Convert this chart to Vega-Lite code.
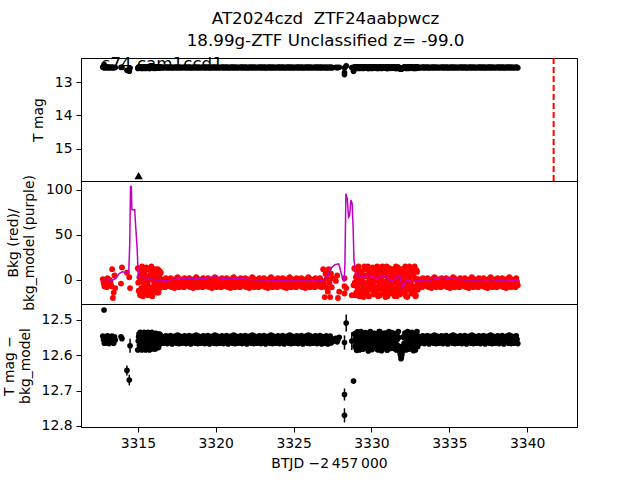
{
  "$schema": "https://vega.github.io/schema/vega-lite/v6.json",
  "background": "white",
  "padding": {"left": 1, "top": 10, "right": 60, "bottom": 8},
  "bounds": "flush",
  "title": {"text": ["AT2024czd\u00a0 ZTF24aabpwcz", "18.99g-ZTF Unclassified z= -99.0"], "fontSize": 16.7, "font": "DejaVu Sans", "fontWeight": "normal", "color": "black", "anchor": "middle", "dx": 36, "lineHeight": 22, "offset": 6},
  "datasets": {
    "lc": [
      {"t":3312.75,"d":12.546,"b":1},{"t":3312.80,"d":12.556,"b":-3},{"t":3312.83,"d":12.472,"b":-4},{"t":3312.85,"d":12.566,"b":-7},
      {"t":3312.90,"d":12.548,"b":0},{"t":3312.95,"d":12.557,"b":-4},{"t":3313.00,"d":12.565,"b":-8},{"t":3313.05,"d":12.545,"b":2},
      {"t":3313.10,"d":12.555,"b":-2},{"t":3313.15,"d":12.567,"b":-6},{"t":3313.20,"d":12.547,"b":0},{"t":3313.25,"d":12.558,"b":-3},
      {"t":3313.30,"d":12.564,"b":-7},{"t":3313.35,"d":12.546,"b":12},{"t":3313.40,"d":12.556,"b":-20},{"t":3313.45,"d":12.566,"b":-14},
      {"t":3313.50,"d":12.548,"b":5},{"t":3313.55,"d":12.557,"b":-9},
      {"t":3313.92,"d":12.548,"b":-4},{"t":3313.98,"d":12.553,"b":14},{"t":3314.30,"d":12.643,"b":8},{"t":3314.45,"d":12.670,"b":3},{"t":3314.50,"d":12.573,"b":-9},
      {"t":3315.00,"d":12.585,"b":13},{"t":3315.05,"d":12.548,"b":-12},{"t":3315.10,"d":12.572,"b":3},{"t":3315.15,"d":12.535,"b":-17},
      {"t":3315.20,"d":12.560,"b":8},{"t":3315.25,"d":12.585,"b":-2},{"t":3315.30,"d":12.548,"b":10},{"t":3315.35,"d":12.572,"b":-15},
      {"t":3315.40,"d":12.535,"b":-7},{"t":3315.45,"d":12.560,"b":6},{"t":3315.50,"d":12.585,"b":-10},{"t":3315.55,"d":12.548,"b":14},
      {"t":3315.60,"d":12.572,"b":-5},{"t":3315.65,"d":12.535,"b":-17},{"t":3315.70,"d":12.560,"b":1},{"t":3315.75,"d":12.585,"b":11},
      {"t":3315.80,"d":12.548,"b":-13},{"t":3315.85,"d":12.572,"b":4},{"t":3315.90,"d":12.535,"b":-8},{"t":3315.95,"d":12.560,"b":-16},
      {"t":3316.00,"d":12.582,"b":9},{"t":3316.05,"d":12.548,"b":-3},{"t":3316.10,"d":12.570,"b":12},{"t":3316.15,"d":12.538,"b":-11},
      {"t":3316.20,"d":12.560,"b":0},{"t":3316.25,"d":12.578,"b":-14},{"t":3316.30,"d":12.548,"b":7},{"t":3316.35,"d":12.568,"b":-6},
      {"t":3316.40,"d":12.540,"b":10},{"t":3316.45,"d":12.560,"b":-2},

      {"t":3316.50,"d":12.546,"b":1},{"t":3316.55,"d":12.556,"b":-3},{"t":3316.60,"d":12.566,"b":-7},{"t":3316.65,"d":12.548,"b":0},
      {"t":3316.70,"d":12.557,"b":-4},{"t":3316.75,"d":12.565,"b":-8},{"t":3316.80,"d":12.545,"b":2},{"t":3316.85,"d":12.555,"b":-2},
      {"t":3316.90,"d":12.567,"b":-6},{"t":3316.95,"d":12.547,"b":0},{"t":3317.00,"d":12.558,"b":-3},{"t":3317.05,"d":12.564,"b":-7},
      {"t":3317.10,"d":12.544,"b":2},{"t":3317.15,"d":12.555,"b":-2},{"t":3317.20,"d":12.568,"b":-8},{"t":3317.25,"d":12.549,"b":-1},
      {"t":3317.30,"d":12.559,"b":-5},{"t":3317.35,"d":12.563,"b":-9},{"t":3317.40,"d":12.546,"b":1},{"t":3317.45,"d":12.553,"b":-3},
      {"t":3317.50,"d":12.566,"b":-6},{"t":3317.55,"d":12.543,"b":3},{"t":3317.60,"d":12.557,"b":-4},{"t":3317.65,"d":12.567,"b":-8},
      {"t":3317.70,"d":12.546,"b":1},{"t":3317.75,"d":12.556,"b":-3},{"t":3317.80,"d":12.566,"b":-7},{"t":3317.85,"d":12.548,"b":0},
      {"t":3317.90,"d":12.557,"b":-4},{"t":3317.95,"d":12.565,"b":-8},{"t":3318.00,"d":12.545,"b":2},{"t":3318.05,"d":12.555,"b":-2},
      {"t":3318.10,"d":12.567,"b":-6},{"t":3318.15,"d":12.547,"b":0},{"t":3318.20,"d":12.558,"b":-3},{"t":3318.25,"d":12.564,"b":-7},
      {"t":3318.30,"d":12.544,"b":2},{"t":3318.35,"d":12.555,"b":-2},{"t":3318.40,"d":12.568,"b":-8},{"t":3318.45,"d":12.549,"b":-1},
      {"t":3318.50,"d":12.559,"b":-5},{"t":3318.55,"d":12.563,"b":-9},{"t":3318.60,"d":12.546,"b":1},{"t":3318.65,"d":12.553,"b":-3},
      {"t":3318.70,"d":12.566,"b":-6},{"t":3318.75,"d":12.543,"b":3},{"t":3318.80,"d":12.557,"b":-4},{"t":3318.85,"d":12.567,"b":-8},
      {"t":3318.90,"d":12.546,"b":1},{"t":3318.95,"d":12.556,"b":-3},{"t":3319.00,"d":12.566,"b":-7},{"t":3319.05,"d":12.548,"b":0},
      {"t":3319.10,"d":12.557,"b":-4},{"t":3319.15,"d":12.565,"b":-8},{"t":3319.20,"d":12.545,"b":2},{"t":3319.25,"d":12.555,"b":-2},
      {"t":3319.30,"d":12.567,"b":-6},{"t":3319.35,"d":12.547,"b":0},{"t":3319.40,"d":12.558,"b":-3},{"t":3319.45,"d":12.564,"b":-7},
      {"t":3319.50,"d":12.544,"b":2},{"t":3319.55,"d":12.555,"b":-2},{"t":3319.60,"d":12.568,"b":-8},{"t":3319.65,"d":12.549,"b":-1},
      {"t":3319.70,"d":12.559,"b":-5},{"t":3319.75,"d":12.563,"b":-9},{"t":3319.80,"d":12.546,"b":1},{"t":3319.85,"d":12.553,"b":-3},
      {"t":3319.90,"d":12.566,"b":-6},{"t":3319.95,"d":12.543,"b":3},{"t":3320.00,"d":12.557,"b":-4},{"t":3320.05,"d":12.567,"b":-8},
      {"t":3320.10,"d":12.546,"b":1},{"t":3320.15,"d":12.556,"b":-3},{"t":3320.20,"d":12.566,"b":-7},{"t":3320.25,"d":12.548,"b":0},
      {"t":3320.30,"d":12.557,"b":-4},{"t":3320.35,"d":12.565,"b":-8},{"t":3320.40,"d":12.545,"b":2},{"t":3320.45,"d":12.555,"b":-2},
      {"t":3320.50,"d":12.567,"b":-6},{"t":3320.55,"d":12.547,"b":0},{"t":3320.60,"d":12.558,"b":-3},{"t":3320.65,"d":12.564,"b":-7},
      {"t":3320.70,"d":12.544,"b":2},{"t":3320.75,"d":12.555,"b":-2},{"t":3320.80,"d":12.568,"b":-8},{"t":3320.85,"d":12.549,"b":-1},
      {"t":3320.90,"d":12.559,"b":-5},{"t":3320.95,"d":12.563,"b":-9},{"t":3321.00,"d":12.546,"b":1},{"t":3321.05,"d":12.553,"b":-3},
      {"t":3321.10,"d":12.566,"b":-6},{"t":3321.15,"d":12.543,"b":3},{"t":3321.20,"d":12.557,"b":-4},{"t":3321.25,"d":12.567,"b":-8},
      {"t":3321.30,"d":12.546,"b":1},{"t":3321.35,"d":12.556,"b":-3},{"t":3321.40,"d":12.566,"b":-7},{"t":3321.45,"d":12.548,"b":0},
      {"t":3321.50,"d":12.557,"b":-4},{"t":3321.55,"d":12.565,"b":-8},{"t":3321.60,"d":12.545,"b":2},{"t":3321.65,"d":12.555,"b":-2},
      {"t":3321.70,"d":12.567,"b":-6},{"t":3321.75,"d":12.547,"b":0},{"t":3321.80,"d":12.558,"b":-3},{"t":3321.85,"d":12.564,"b":-7},
      {"t":3321.90,"d":12.544,"b":2},{"t":3321.95,"d":12.555,"b":-2},{"t":3322.00,"d":12.568,"b":-8},{"t":3322.05,"d":12.549,"b":-1},
      {"t":3322.10,"d":12.559,"b":-5},{"t":3322.15,"d":12.563,"b":-9},{"t":3322.20,"d":12.546,"b":1},{"t":3322.25,"d":12.553,"b":-3},
      {"t":3322.30,"d":12.566,"b":-6},{"t":3322.35,"d":12.543,"b":3},{"t":3322.40,"d":12.557,"b":-4},{"t":3322.45,"d":12.567,"b":-8},
      {"t":3322.50,"d":12.546,"b":1},{"t":3322.55,"d":12.556,"b":-3},{"t":3322.60,"d":12.566,"b":-7},{"t":3322.65,"d":12.548,"b":0},
      {"t":3322.70,"d":12.557,"b":-4},{"t":3322.75,"d":12.565,"b":-8},{"t":3322.80,"d":12.545,"b":2},{"t":3322.85,"d":12.555,"b":-2},
      {"t":3322.90,"d":12.567,"b":-6},{"t":3322.95,"d":12.547,"b":0},{"t":3323.00,"d":12.558,"b":-3},{"t":3323.05,"d":12.564,"b":-7},
      {"t":3323.10,"d":12.544,"b":2},{"t":3323.15,"d":12.555,"b":-2},{"t":3323.20,"d":12.568,"b":-8},{"t":3323.25,"d":12.549,"b":-1},
      {"t":3323.30,"d":12.559,"b":-5},{"t":3323.35,"d":12.563,"b":-9},{"t":3323.40,"d":12.546,"b":1},{"t":3323.45,"d":12.553,"b":-3},
      {"t":3323.50,"d":12.566,"b":-6},{"t":3323.55,"d":12.543,"b":3},{"t":3323.60,"d":12.557,"b":-4},{"t":3323.65,"d":12.567,"b":-8},
      {"t":3323.70,"d":12.546,"b":1},{"t":3323.75,"d":12.556,"b":-3},{"t":3323.80,"d":12.566,"b":-7},{"t":3323.85,"d":12.548,"b":0},
      {"t":3323.90,"d":12.557,"b":-4},{"t":3323.95,"d":12.565,"b":-8},{"t":3324.00,"d":12.545,"b":2},{"t":3324.05,"d":12.555,"b":-2},
      {"t":3324.10,"d":12.567,"b":-6},{"t":3324.15,"d":12.547,"b":0},{"t":3324.20,"d":12.558,"b":-3},{"t":3324.25,"d":12.564,"b":-7},
      {"t":3324.30,"d":12.544,"b":2},{"t":3324.35,"d":12.555,"b":-2},{"t":3324.40,"d":12.568,"b":-8},{"t":3324.45,"d":12.549,"b":-1},
      {"t":3324.50,"d":12.559,"b":-5},{"t":3324.55,"d":12.563,"b":-9},{"t":3324.60,"d":12.546,"b":1},{"t":3324.65,"d":12.553,"b":-3},
      {"t":3324.70,"d":12.566,"b":-6},{"t":3324.75,"d":12.543,"b":3},{"t":3324.80,"d":12.557,"b":-4},{"t":3324.85,"d":12.567,"b":-8},
      {"t":3324.90,"d":12.546,"b":1},{"t":3324.95,"d":12.556,"b":-3},{"t":3325.00,"d":12.566,"b":-7},{"t":3325.05,"d":12.548,"b":0},
      {"t":3325.10,"d":12.557,"b":-4},{"t":3325.15,"d":12.565,"b":-8},{"t":3325.20,"d":12.545,"b":2},{"t":3325.25,"d":12.555,"b":-2},
      {"t":3325.30,"d":12.567,"b":-6},{"t":3325.35,"d":12.547,"b":0},{"t":3325.40,"d":12.558,"b":-3},{"t":3325.45,"d":12.564,"b":-7},
      {"t":3325.50,"d":12.544,"b":2},{"t":3325.55,"d":12.555,"b":-2},{"t":3325.60,"d":12.568,"b":-8},{"t":3325.65,"d":12.549,"b":-1},
      {"t":3325.70,"d":12.559,"b":-5},{"t":3325.75,"d":12.563,"b":-9},{"t":3325.80,"d":12.546,"b":1},{"t":3325.85,"d":12.553,"b":-3},
      {"t":3325.90,"d":12.566,"b":-6},{"t":3325.95,"d":12.543,"b":3},{"t":3326.00,"d":12.557,"b":-4},{"t":3326.05,"d":12.567,"b":-8},
      {"t":3326.10,"d":12.546,"b":1},{"t":3326.15,"d":12.556,"b":-3},{"t":3326.20,"d":12.566,"b":-7},{"t":3326.25,"d":12.548,"b":0},
      {"t":3326.30,"d":12.557,"b":-4},{"t":3326.35,"d":12.565,"b":-8},{"t":3326.40,"d":12.545,"b":2},{"t":3326.45,"d":12.555,"b":-2},
      {"t":3326.50,"d":12.567,"b":-6},{"t":3326.55,"d":12.547,"b":0},{"t":3326.60,"d":12.558,"b":-3},{"t":3326.65,"d":12.564,"b":-7},
      {"t":3326.70,"d":12.544,"b":2},{"t":3326.75,"d":12.555,"b":-2},{"t":3326.80,"d":12.568,"b":-8},{"t":3326.85,"d":12.549,"b":-1},

      {"t":3326.90,"d":12.548,"b":12},{"t":3326.95,"d":12.562,"b":-3},{"t":3327.00,"d":12.552,"b":-19},{"t":3327.05,"d":12.566,"b":7},
      {"t":3327.10,"d":12.545,"b":-8},{"t":3327.15,"d":12.558,"b":2},{"t":3327.20,"d":12.568,"b":-13},{"t":3327.25,"d":12.550,"b":12},
      {"t":3327.30,"d":12.560,"b":-3},{"t":3327.35,"d":12.546,"b":-19},{"t":3327.40,"d":12.565,"b":7},{"t":3327.45,"d":12.553,"b":-8},
      {"t":3327.50,"d":12.562,"b":2},
      {"t":3327.72,"d":12.552,"b":-1},{"t":3327.80,"d":12.562,"b":5},{"t":3327.85,"d":12.556,"b":-20},{"t":3327.93,"d":12.549,"b":-13},
      {"t":3328.27,"d":12.564,"b":2},{"t":3328.27,"d":12.711,"b":-7},{"t":3328.27,"d":12.770,"b":-15},{"t":3328.38,"d":12.509,"b":-9},
      {"t":3328.74,"d":12.560,"b":-17},{"t":3328.85,"d":12.673,"b":-6},

      {"t":3328.90,"d":12.540,"b":13},{"t":3328.95,"d":12.575,"b":-17},{"t":3329.00,"d":12.552,"b":3},{"t":3329.05,"d":12.586,"b":-7},
      {"t":3329.10,"d":12.534,"b":8},{"t":3329.15,"d":12.563,"b":-12},{"t":3329.20,"d":12.580,"b":-2},{"t":3329.25,"d":12.545,"b":10},
      {"t":3329.30,"d":12.570,"b":-15},{"t":3329.35,"d":12.538,"b":0},{"t":3329.40,"d":12.558,"b":-5},{"t":3329.45,"d":12.583,"b":6},
      {"t":3329.50,"d":12.548,"b":-19},{"t":3329.55,"d":12.567,"b":15},{"t":3329.60,"d":12.536,"b":-9},{"t":3329.65,"d":12.578,"b":4},
      {"t":3329.70,"d":12.555,"b":-14},{"t":3329.75,"d":12.542,"b":11},{"t":3329.80,"d":12.588,"b":-3},{"t":3329.85,"d":12.561,"b":-18},
      {"t":3329.90,"d":12.535,"b":7},{"t":3329.95,"d":12.572,"b":-6},{"t":3330.00,"d":12.550,"b":1},{"t":3330.05,"d":12.584,"b":-11},
      {"t":3330.10,"d":12.544,"b":14},{"t":3330.15,"d":12.566,"b":-16},{"t":3330.20,"d":12.539,"b":-1},{"t":3330.25,"d":12.576,"b":9},
      {"t":3330.30,"d":12.557,"b":-13},{"t":3330.35,"d":12.582,"b":5},{"t":3330.40,"d":12.546,"b":-8},{"t":3330.45,"d":12.569,"b":12},
      {"t":3330.50,"d":12.533,"b":-4},{"t":3330.55,"d":12.579,"b":-17},{"t":3330.60,"d":12.553,"b":2},{"t":3330.65,"d":12.587,"b":-10},
      {"t":3330.70,"d":12.541,"b":15},{"t":3330.75,"d":12.564,"b":-14},{"t":3330.80,"d":12.549,"b":6},{"t":3330.85,"d":12.574,"b":-2},
      {"t":3330.90,"d":12.537,"b":-19},{"t":3330.95,"d":12.560,"b":10},{"t":3331.00,"d":12.585,"b":-7},{"t":3331.05,"d":12.547,"b":3},
      {"t":3331.10,"d":12.571,"b":-12},{"t":3331.15,"d":12.543,"b":13},{"t":3331.20,"d":12.581,"b":-5},{"t":3331.25,"d":12.556,"b":-15},
      {"t":3331.30,"d":12.536,"b":8},{"t":3331.35,"d":12.568,"b":-9},{"t":3331.40,"d":12.552,"b":0},{"t":3331.45,"d":12.577,"b":11},
      {"t":3331.50,"d":12.539,"b":-18},{"t":3331.55,"d":12.584,"b":4},{"t":3331.60,"d":12.559,"b":-3},{"t":3331.65,"d":12.545,"b":-13},
      {"t":3331.70,"d":12.573,"b":14},{"t":3331.75,"d":12.550,"b":-8},{"t":3331.80,"d":12.585,"b":1},{"t":3331.85,"d":12.596,"b":-16},
      {"t":3331.90,"d":12.610,"b":7},{"t":3331.95,"d":12.598,"b":-11},{"t":3332.00,"d":12.578,"b":12},{"t":3332.05,"d":12.548,"b":-6},
      {"t":3332.10,"d":12.566,"b":-1},{"t":3332.15,"d":12.537,"b":-14},{"t":3332.20,"d":12.580,"b":9},{"t":3332.25,"d":12.554,"b":-4},
      {"t":3332.30,"d":12.571,"b":-19},{"t":3332.35,"d":12.542,"b":5},{"t":3332.40,"d":12.583,"b":-10},{"t":3332.45,"d":12.558,"b":15},
      {"t":3332.50,"d":12.546,"b":-2},{"t":3332.55,"d":12.575,"b":-15},{"t":3332.60,"d":12.535,"b":6},{"t":3332.65,"d":12.563,"b":-7},
      {"t":3332.70,"d":12.587,"b":10},{"t":3332.75,"d":12.549,"b":-12},{"t":3332.80,"d":12.569,"b":2},{"t":3332.85,"d":12.540,"b":-17},
      {"t":3332.90,"d":12.572,"b":11},{"t":3332.95,"d":12.552,"b":-5},

      {"t":3333.00,"d":12.546,"b":1},{"t":3333.05,"d":12.556,"b":-3},{"t":3333.10,"d":12.566,"b":-7},{"t":3333.15,"d":12.548,"b":0},
      {"t":3333.20,"d":12.557,"b":-4},{"t":3333.25,"d":12.565,"b":-8},{"t":3333.30,"d":12.545,"b":2},{"t":3333.35,"d":12.555,"b":-2},
      {"t":3333.40,"d":12.567,"b":-6},{"t":3333.45,"d":12.547,"b":0},{"t":3333.50,"d":12.558,"b":-3},{"t":3333.55,"d":12.564,"b":-7},
      {"t":3333.60,"d":12.544,"b":2},{"t":3333.65,"d":12.555,"b":-2},{"t":3333.70,"d":12.568,"b":-8},{"t":3333.75,"d":12.549,"b":-1},
      {"t":3333.80,"d":12.559,"b":-5},{"t":3333.85,"d":12.563,"b":-9},{"t":3333.90,"d":12.546,"b":1},{"t":3333.95,"d":12.553,"b":-3},
      {"t":3334.00,"d":12.566,"b":-6},{"t":3334.05,"d":12.543,"b":3},{"t":3334.10,"d":12.557,"b":-4},{"t":3334.15,"d":12.567,"b":-8},
      {"t":3334.20,"d":12.546,"b":1},{"t":3334.25,"d":12.556,"b":-3},{"t":3334.30,"d":12.566,"b":-7},{"t":3334.35,"d":12.548,"b":0},
      {"t":3334.40,"d":12.557,"b":-4},{"t":3334.45,"d":12.565,"b":-8},{"t":3334.50,"d":12.545,"b":2},{"t":3334.55,"d":12.555,"b":-2},
      {"t":3334.60,"d":12.567,"b":-6},{"t":3334.65,"d":12.547,"b":0},{"t":3334.70,"d":12.558,"b":-3},{"t":3334.75,"d":12.564,"b":-7},
      {"t":3334.80,"d":12.544,"b":2},{"t":3334.85,"d":12.555,"b":-2},{"t":3334.90,"d":12.568,"b":-8},{"t":3334.95,"d":12.549,"b":-1},
      {"t":3335.00,"d":12.559,"b":-5},{"t":3335.05,"d":12.563,"b":-9},{"t":3335.10,"d":12.546,"b":1},{"t":3335.15,"d":12.553,"b":-3},
      {"t":3335.20,"d":12.566,"b":-6},{"t":3335.25,"d":12.543,"b":3},{"t":3335.30,"d":12.557,"b":-4},{"t":3335.35,"d":12.567,"b":-8},
      {"t":3335.40,"d":12.546,"b":1},{"t":3335.45,"d":12.556,"b":-3},{"t":3335.50,"d":12.566,"b":-7},{"t":3335.55,"d":12.548,"b":0},
      {"t":3335.60,"d":12.557,"b":-4},{"t":3335.65,"d":12.565,"b":-8},{"t":3335.70,"d":12.545,"b":2},{"t":3335.75,"d":12.555,"b":-2},
      {"t":3335.80,"d":12.567,"b":-6},{"t":3335.85,"d":12.547,"b":0},{"t":3335.90,"d":12.558,"b":-3},{"t":3335.95,"d":12.564,"b":-7},
      {"t":3336.00,"d":12.544,"b":2},{"t":3336.05,"d":12.555,"b":-2},{"t":3336.10,"d":12.568,"b":-8},{"t":3336.15,"d":12.549,"b":-1},
      {"t":3336.20,"d":12.559,"b":-5},{"t":3336.25,"d":12.563,"b":-9},{"t":3336.30,"d":12.546,"b":1},{"t":3336.35,"d":12.553,"b":-3},
      {"t":3336.40,"d":12.566,"b":-6},{"t":3336.45,"d":12.543,"b":3},{"t":3336.50,"d":12.557,"b":-4},{"t":3336.55,"d":12.567,"b":-8},
      {"t":3336.60,"d":12.546,"b":1},{"t":3336.65,"d":12.556,"b":-3},{"t":3336.70,"d":12.566,"b":-7},{"t":3336.75,"d":12.548,"b":0},
      {"t":3336.80,"d":12.557,"b":-4},{"t":3336.85,"d":12.565,"b":-8},{"t":3336.90,"d":12.545,"b":2},{"t":3336.95,"d":12.555,"b":-2},
      {"t":3337.00,"d":12.567,"b":-6},{"t":3337.05,"d":12.547,"b":0},{"t":3337.10,"d":12.558,"b":-3},{"t":3337.15,"d":12.564,"b":-7},
      {"t":3337.20,"d":12.544,"b":2},{"t":3337.25,"d":12.555,"b":-2},{"t":3337.30,"d":12.568,"b":-8},{"t":3337.35,"d":12.549,"b":-1},
      {"t":3337.40,"d":12.559,"b":-5},{"t":3337.45,"d":12.563,"b":-9},{"t":3337.50,"d":12.546,"b":1},{"t":3337.55,"d":12.553,"b":-3},
      {"t":3337.60,"d":12.566,"b":-6},{"t":3337.65,"d":12.543,"b":3},{"t":3337.70,"d":12.557,"b":-4},{"t":3337.75,"d":12.567,"b":-8},
      {"t":3337.80,"d":12.546,"b":1},{"t":3337.85,"d":12.556,"b":-3},{"t":3337.90,"d":12.566,"b":-7},{"t":3337.95,"d":12.548,"b":0},
      {"t":3338.00,"d":12.557,"b":-4},{"t":3338.05,"d":12.565,"b":-8},{"t":3338.10,"d":12.545,"b":2},{"t":3338.15,"d":12.555,"b":-2},
      {"t":3338.20,"d":12.567,"b":-6},{"t":3338.25,"d":12.547,"b":0},{"t":3338.30,"d":12.558,"b":-3},{"t":3338.35,"d":12.564,"b":-7},
      {"t":3338.40,"d":12.544,"b":2},{"t":3338.45,"d":12.555,"b":-2},{"t":3338.50,"d":12.568,"b":-8},{"t":3338.55,"d":12.549,"b":-1},
      {"t":3338.60,"d":12.559,"b":-5},{"t":3338.65,"d":12.563,"b":-9},{"t":3338.70,"d":12.546,"b":1},{"t":3338.75,"d":12.553,"b":-3},
      {"t":3338.80,"d":12.566,"b":-6},{"t":3338.85,"d":12.543,"b":3},{"t":3338.90,"d":12.557,"b":-4},{"t":3338.95,"d":12.567,"b":-8},
      {"t":3339.00,"d":12.546,"b":1},{"t":3339.05,"d":12.556,"b":-3},{"t":3339.10,"d":12.566,"b":-7},{"t":3339.15,"d":12.548,"b":0},
      {"t":3339.20,"d":12.557,"b":-4},{"t":3339.25,"d":12.565,"b":-8},{"t":3339.30,"d":12.545,"b":2},{"t":3339.35,"d":12.555,"b":-2},
      {"t":3339.40,"d":12.567,"b":-6},

      {"t":3315.025,"d":12.560,"b":-3},{"t":3315.075,"d":12.540,"b":12},{"t":3315.125,"d":12.578,"b":-14},{"t":3315.175,"d":12.550,"b":5},
      {"t":3315.225,"d":12.568,"b":-9},{"t":3315.275,"d":12.545,"b":15},{"t":3315.325,"d":12.582,"b":-18},{"t":3315.375,"d":12.555,"b":0},
      {"t":3315.425,"d":12.560,"b":9},{"t":3315.475,"d":12.540,"b":-11},{"t":3315.525,"d":12.578,"b":3},{"t":3315.575,"d":12.550,"b":-6},
      {"t":3315.625,"d":12.568,"b":-3},{"t":3315.675,"d":12.545,"b":12},{"t":3315.725,"d":12.582,"b":-14},{"t":3315.775,"d":12.555,"b":5},
      {"t":3315.825,"d":12.560,"b":-9},{"t":3315.875,"d":12.540,"b":15},{"t":3315.925,"d":12.578,"b":-18},{"t":3315.975,"d":12.550,"b":0},
      {"t":3316.025,"d":12.568,"b":9},{"t":3316.075,"d":12.545,"b":-11},{"t":3316.125,"d":12.582,"b":3},{"t":3316.175,"d":12.555,"b":-6},
      {"t":3316.225,"d":12.560,"b":-3},{"t":3316.275,"d":12.540,"b":12},{"t":3316.325,"d":12.578,"b":-14},{"t":3316.375,"d":12.550,"b":5},
      {"t":3316.425,"d":12.568,"b":-9},{"t":3316.475,"d":12.545,"b":8},

      {"t":3328.925,"d":12.560,"b":-3},{"t":3328.975,"d":12.538,"b":12},{"t":3329.025,"d":12.580,"b":-14},{"t":3329.075,"d":12.550,"b":5},
      {"t":3329.125,"d":12.570,"b":-9},{"t":3329.175,"d":12.543,"b":15},{"t":3329.225,"d":12.585,"b":-18},{"t":3329.275,"d":12.555,"b":0},
      {"t":3329.325,"d":12.533,"b":9},{"t":3329.375,"d":12.575,"b":-11},{"t":3329.425,"d":12.547,"b":3},{"t":3329.475,"d":12.565,"b":-6},
      {"t":3329.525,"d":12.560,"b":-3},{"t":3329.575,"d":12.538,"b":12},{"t":3329.625,"d":12.580,"b":-14},{"t":3329.675,"d":12.550,"b":5},
      {"t":3329.725,"d":12.570,"b":-9},{"t":3329.775,"d":12.543,"b":15},{"t":3329.825,"d":12.585,"b":-18},{"t":3329.875,"d":12.555,"b":0},
      {"t":3329.925,"d":12.533,"b":9},{"t":3329.975,"d":12.575,"b":-11},{"t":3330.025,"d":12.547,"b":3},{"t":3330.075,"d":12.565,"b":-6},
      {"t":3330.125,"d":12.560,"b":-3},{"t":3330.175,"d":12.538,"b":12},{"t":3330.225,"d":12.580,"b":-14},{"t":3330.275,"d":12.550,"b":5},
      {"t":3330.325,"d":12.570,"b":-9},{"t":3330.375,"d":12.543,"b":15},{"t":3330.425,"d":12.585,"b":-18},{"t":3330.475,"d":12.555,"b":0},
      {"t":3330.525,"d":12.533,"b":9},{"t":3330.575,"d":12.575,"b":-11},{"t":3330.625,"d":12.547,"b":3},{"t":3330.675,"d":12.565,"b":-6},
      {"t":3330.725,"d":12.560,"b":-3},{"t":3330.775,"d":12.538,"b":12},{"t":3330.825,"d":12.580,"b":-14},{"t":3330.875,"d":12.550,"b":5},
      {"t":3330.925,"d":12.570,"b":-9},{"t":3330.975,"d":12.543,"b":15},{"t":3331.025,"d":12.585,"b":-18},{"t":3331.075,"d":12.555,"b":0},
      {"t":3331.125,"d":12.533,"b":9},{"t":3331.175,"d":12.575,"b":-11},{"t":3331.225,"d":12.547,"b":3},{"t":3331.275,"d":12.565,"b":-6},
      {"t":3331.325,"d":12.560,"b":-3},{"t":3331.375,"d":12.538,"b":12},{"t":3331.425,"d":12.580,"b":-14},{"t":3331.475,"d":12.550,"b":5},
      {"t":3331.525,"d":12.570,"b":-9},{"t":3331.575,"d":12.543,"b":15},{"t":3331.625,"d":12.585,"b":-18},{"t":3331.675,"d":12.555,"b":0},
      {"t":3331.725,"d":12.533,"b":9},{"t":3331.775,"d":12.575,"b":-11},{"t":3331.825,"d":12.590,"b":3},{"t":3331.875,"d":12.600,"b":-6},
      {"t":3331.925,"d":12.605,"b":-3},{"t":3331.975,"d":12.590,"b":12},{"t":3332.025,"d":12.575,"b":-14},{"t":3332.075,"d":12.550,"b":5},
      {"t":3332.125,"d":12.570,"b":-9},{"t":3332.175,"d":12.543,"b":15},{"t":3332.225,"d":12.585,"b":-18},{"t":3332.275,"d":12.555,"b":0},
      {"t":3332.325,"d":12.533,"b":9},{"t":3332.375,"d":12.575,"b":-11},{"t":3332.425,"d":12.547,"b":3},{"t":3332.475,"d":12.565,"b":-6},
      {"t":3332.525,"d":12.560,"b":-3},{"t":3332.575,"d":12.538,"b":12},{"t":3332.625,"d":12.580,"b":-14},{"t":3332.675,"d":12.550,"b":5},
      {"t":3332.725,"d":12.570,"b":-9},{"t":3332.775,"d":12.543,"b":15},{"t":3332.825,"d":12.585,"b":-18},{"t":3332.875,"d":12.555,"b":0},
      {"t":3332.925,"d":12.533,"b":9},{"t":3332.975,"d":12.575,"b":-11}
    ],
    "bm": [
      {"t":3312.7,"v":0},{"t":3313.0,"v":1},{"t":3313.3,"v":-1},{"t":3313.6,"v":2},{"t":3313.8,"v":7},{"t":3314.0,"v":9},
      {"t":3314.3,"v":8},{"t":3314.42,"v":10},{"t":3314.48,"v":40},{"t":3314.53,"v":104},{"t":3314.58,"v":104},{"t":3314.62,"v":78},
      {"t":3314.8,"v":78},{"t":3314.86,"v":60},{"t":3314.95,"v":37},{"t":3315.03,"v":4},{"t":3315.1,"v":3},{"t":3315.4,"v":3},
      {"t":3315.8,"v":1},{"t":3316.2,"v":0},{"t":3316.6,"v":-1},{"t":3317.0,"v":0},{"t":3317.4,"v":1},{"t":3317.6,"v":3},
      {"t":3317.9,"v":1},{"t":3318.3,"v":2},{"t":3318.8,"v":1},{"t":3319.3,"v":2},{"t":3319.9,"v":3.5},{"t":3320.4,"v":2},
      {"t":3321.0,"v":1},{"t":3321.6,"v":1.5},{"t":3322.2,"v":0.5},{"t":3322.8,"v":0},{"t":3323.4,"v":0},{"t":3324.0,"v":-0.5},
      {"t":3324.6,"v":-0.5},{"t":3325.2,"v":-1},{"t":3325.8,"v":-1},{"t":3326.4,"v":-1},{"t":3326.9,"v":-0.5},{"t":3327.2,"v":5},
      {"t":3327.45,"v":14},{"t":3327.65,"v":17},{"t":3327.9,"v":18},{"t":3328.05,"v":8},{"t":3328.15,"v":2},{"t":3328.25,"v":-2},
      {"t":3328.30,"v":20},{"t":3328.36,"v":96},{"t":3328.45,"v":90},{"t":3328.53,"v":70},{"t":3328.6,"v":72},{"t":3328.68,"v":89},
      {"t":3328.76,"v":85},{"t":3328.82,"v":60},{"t":3328.88,"v":22},{"t":3329.0,"v":8},{"t":3329.13,"v":4},{"t":3329.4,"v":3},
      {"t":3329.77,"v":5.5},{"t":3330.1,"v":3},{"t":3330.4,"v":2},{"t":3330.7,"v":5},{"t":3330.95,"v":4},{"t":3331.2,"v":-1},
      {"t":3331.37,"v":0},{"t":3331.6,"v":2},{"t":3331.8,"v":5.5},{"t":3332.0,"v":-8},{"t":3332.25,"v":0},{"t":3332.55,"v":-2},
      {"t":3332.9,"v":-1},{"t":3333.3,"v":0},{"t":3333.85,"v":0},{"t":3334.2,"v":2},{"t":3334.5,"v":3},{"t":3335.1,"v":1},
      {"t":3335.7,"v":0.5},{"t":3336.3,"v":0},{"t":3337.05,"v":0},{"t":3337.6,"v":0.5},{"t":3338.2,"v":-0.5},{"t":3338.77,"v":-1},
      {"t":3339.1,"v":-0.5},{"t":3339.5,"v":-1}
    ],
    "err": [
      {"t":3314.30,"lo":12.629,"hi":12.657},{"t":3314.45,"lo":12.655,"hi":12.685},{"t":3314.50,"lo":12.553,"hi":12.593},
      {"t":3328.27,"lo":12.544,"hi":12.584},{"t":3328.27,"lo":12.694,"hi":12.728},{"t":3328.27,"lo":12.750,"hi":12.790},
      {"t":3328.38,"lo":12.485,"hi":12.533},{"t":3328.74,"lo":12.535,"hi":12.585}
    ],
    "lim": [{"t":3315.05,"m":15.82}]
  },
  "spacing": 0,
  "vconcat": [
    {
      "width": 496, "height": 123,
      "layer": [
        {"data": {"name": "lc"}, "mark": {"type": "circle", "color": "black", "size": 32, "opacity": 1},
         "encoding": {
           "x": {"field": "t", "type": "quantitative", "scale": {"domain": [3311.35, 3343.2], "nice": false, "zero": false}, "axis": null},
           "y": {"field": "d", "type": "quantitative", "scale": {"domain": [12.27, 15.98], "reverse": true, "nice": false, "zero": false}, "axis": {"values": [13, 14, 15], "title": "T mag"}}}},
        {"data": {"name": "lim"}, "mark": {"type": "point", "shape": "triangle-up", "filled": true, "color": "black", "size": 70, "opacity": 1},
         "encoding": {"x": {"field": "t", "type": "quantitative"}, "y": {"field": "m", "type": "quantitative"}}},
        {"data": {"values": [{}]}, "mark": {"type": "rule", "color": "#ff0000", "strokeDash": [6, 3], "strokeWidth": 2},
         "encoding": {"x": {"datum": 3341.7}}},
        {"data": {"values": [{}]}, "mark": {"type": "text", "text": "s74 cam1ccd1", "align": "left", "baseline": "alphabetic", "fontSize": 16.7, "color": "black", "font": "DejaVu Sans"},
         "encoding": {"x": {"datum": 3312.68}, "y": {"datum": 12.6}}}
      ]
    },
    {
      "width": 496, "height": 123,
      "layer": [
        {"data": {"name": "lc"}, "mark": {"type": "circle", "color": "red", "size": 34, "opacity": 1},
         "encoding": {
           "x": {"field": "t", "type": "quantitative", "scale": {"domain": [3311.35, 3343.2], "nice": false, "zero": false}, "axis": null},
           "y": {"field": "b", "type": "quantitative", "scale": {"domain": [-26.7, 110], "nice": false, "zero": false}, "axis": {"values": [0, 50, 100], "title": ["Bkg (red)/", "bkg_model (purple)"]}}}},
        {"data": {"name": "bm"}, "mark": {"type": "line", "color": "#bf00bf", "strokeWidth": 1.5},
         "encoding": {"x": {"field": "t", "type": "quantitative"}, "y": {"field": "v", "type": "quantitative"}}}
      ]
    },
    {
      "width": 496, "height": 123,
      "layer": [
        {"data": {"name": "err"}, "mark": {"type": "rule", "color": "black", "strokeWidth": 1.5},
         "encoding": {
           "x": {"field": "t", "type": "quantitative", "scale": {"domain": [3311.35, 3343.2], "nice": false, "zero": false},
                 "axis": {"values": [3315, 3320, 3325, 3330, 3335, 3340], "format": "d", "title": "BTJD \u22122\u2009457\u2009000"}},
           "y": {"field": "lo", "type": "quantitative", "scale": {"domain": [12.455, 12.803], "reverse": true, "nice": false, "zero": false},
                 "axis": {"values": [12.5, 12.6, 12.7, 12.8], "format": ".1f", "title": ["T mag \u2212", "bkg_model"]}},
           "y2": {"field": "hi"}}},
        {"data": {"name": "lc"}, "mark": {"type": "circle", "color": "black", "size": 32, "opacity": 1},
         "encoding": {"x": {"field": "t", "type": "quantitative"}, "y": {"field": "d", "type": "quantitative"}}}
      ]
    }
  ],
  "config": {
    "font": "DejaVu Sans",
    "view": {"stroke": "black", "strokeWidth": 1},
    "concat": {"spacing": 0},
    "axis": {"grid": false, "domainColor": "black", "tickColor": "black", "labelColor": "black", "titleColor": "black",
             "labelFontSize": 13.9, "titleFontSize": 13.9, "titleFontWeight": "normal", "labelFont": "DejaVu Sans", "titleFont": "DejaVu Sans",
             "tickSize": 5, "labelPadding": 4, "domainWidth": 1, "tickWidth": 1},
    "axisY": {"titlePadding": 9},
    "axisX": {"titlePadding": 7}
  }
}
